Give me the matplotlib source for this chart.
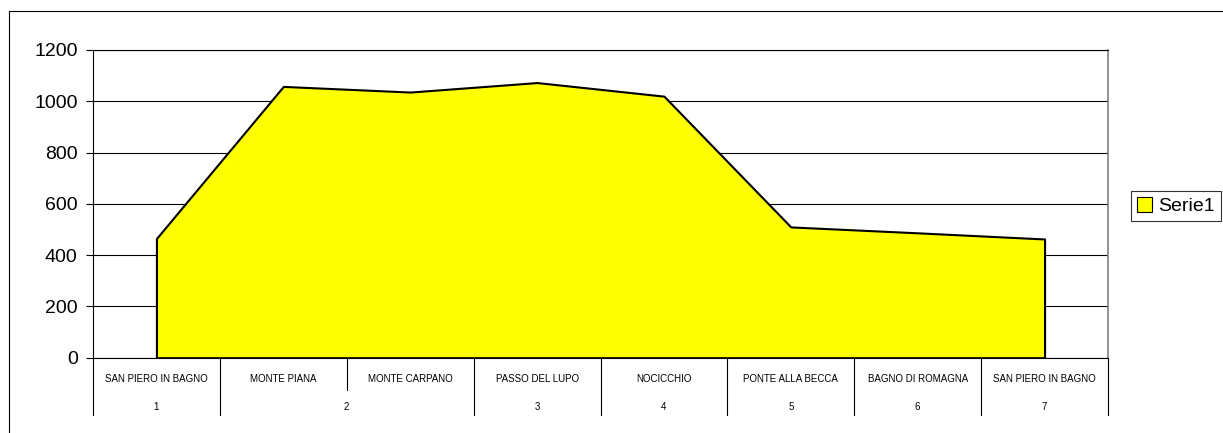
import matplotlib.pyplot as plt
from matplotlib.patches import Patch, Rectangle

plt.rcParams['font.family'] = ['Liberation Sans', 'DejaVu Sans']

# dati del grafico
localita = ["SAN PIERO IN BAGNO", "MONTE PIANA", "MONTE CARPANO", "PASSO DEL LUPO",
            "NOCICCHIO", "PONTE ALLA BECCA", "BAGNO DI ROMAGNA", "SAN PIERO IN BAGNO"]
tappe = ["1", "2", "2", "3", "4", "5", "6", "7"]
quote = [465, 1058, 1036, 1073, 1020, 510, 487, 463]
serie_nome = "Serie1"
y_ticks = [0, 200, 400, 600, 800, 1000, 1200]

W, H = 1223, 433
fig = plt.figure(figsize=(W / 100, H / 100), dpi=100)
ax = fig.add_axes([93 / W, (H - 357.7) / H, (1108 - 93) / W, (357.7 - 50) / H])

x = list(range(len(quote)))
ax.fill_between(x, quote, 0, facecolor='#FFFF00', edgecolor='black', linewidth=1.5, zorder=3)

ax.set_xlim(-0.5, len(quote) - 0.5)
ax.set_ylim(0, 1200)
ax.set_yticks(y_ticks)
ax.tick_params(axis='y', labelsize=14, length=5, width=0.8, pad=6, color='black')
ax.set_xticks([])
ax.grid(axis='y', color='black', linewidth=0.8, zorder=1)
for s in ['left', 'bottom', 'top']:
    ax.spines[s].set_color('black')
    ax.spines[s].set_linewidth(0.8)
ax.spines['right'].set_color('#808080')
ax.spines['right'].set_linewidth(1.2)

# asse categorie a due livelli
tr = ax.get_xaxis_transform()
row1, row2, bottom_div, short_div = -0.069, -0.159, -0.186, -0.105
for i, nome in enumerate(localita):
    ax.text(i, row1, nome, transform=tr, ha='center', va='center', fontsize=7)

# gruppi di tappe
groups = []
for i, t in enumerate(tappe):
    if groups and groups[-1][0] == t:
        groups[-1][2] = i
    else:
        groups.append([t, i, i])
for t, a, b in groups:
    ax.text((a + b) / 2, row2, t, transform=tr, ha='center', va='center', fontsize=7)

bounds = [-0.5] + [i + 0.5 for i in range(len(localita))]
group_bounds = {-0.5} | {b + 0.5 for _, _, b in groups}
for xb in bounds:
    yb = bottom_div if xb in group_bounds else short_div
    ax.plot([xb, xb], [0, yb], transform=tr, color='black', lw=0.8, clip_on=False)

# legenda
handle = Patch(facecolor='#FFFF00', edgecolor='black', linewidth=0.8)
leg = fig.legend([handle], [serie_nome], loc='center left',
                 bbox_to_anchor=(1131 / W, (H - 206) / H), fontsize=14,
                 frameon=True, fancybox=False, shadow=False, borderpad=0.3,
                 handlelength=0.8, handleheight=0.8, handletextpad=0.3,
                 borderaxespad=0)
leg.get_frame().set_edgecolor('black')
leg.get_frame().set_linewidth(0.8)

# cornice esterna del grafico
fig.add_artist(Rectangle((9 / W, -0.2), 2, (H - 11) / H + 0.2,
                         transform=fig.transFigure, fill=False,
                         edgecolor='black', linewidth=0.8))

fig.savefig('out.png', dpi=100)
